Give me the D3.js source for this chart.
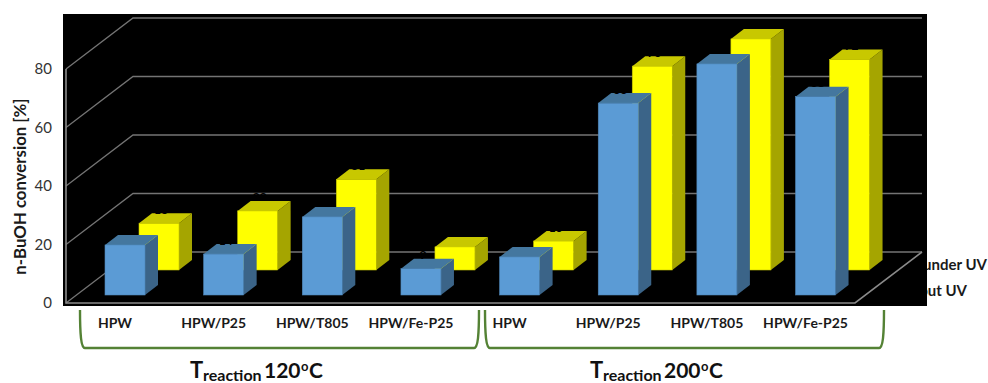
<!DOCTYPE html>
<html>
<head>
<meta charset="utf-8">
<script src="https://cdnjs.cloudflare.com/ajax/libs/d3/7.8.5/d3.min.js"></script>
<style>
html,body{margin:0;padding:0;background:#fff}
svg{display:block}
text{font-family:Lato,"Open Sans",sans-serif}
</style>
</head>
<body>
<svg id="chart" width="988" height="383"></svg>
<script>
// n-BuOH conversion for each catalyst at two reaction temperatures
const categories = ["HPW","HPW/P25","HPW/T805","HPW/Fe-P25","HPW","HPW/P25","HPW/T805","HPW/Fe-P25"];
const withoutUV = [17.1,14,26.7,9,13,65.6,79,67.8];
const underUV = [16,20.2,31,7.9,9.9,69.7,79,72];
const yTicks = [0,20,40,60,80];
const seriesNames = ["under UV","without UV"];
const groupTitles = ["120","200"];

const svg = d3.select("#chart");

// Plot frame and projected 3D depth
const frame = {x:63,y:14,w:864,h:292};
const wall = {left:66,right:855,dx:67,dy:51};
const barW = 40, barDx = 13, barDy = 10;
const y = d3.scaleLinear().domain([0,80]).range([303,69]);
const x = d3.scaleBand().domain(d3.range(categories.length))
  .range([105,105+98.65*8]).paddingInner(0).align(0);

// Each series sits on its own row of the floor
const rows = [
  {name:"under UV",values:underUV,dx:34,base:33,front:"#ffff00",top:"#c8c800",side:"#a5a500",edge:"#c4c400"},
  {name:"without UV",values:withoutUV,dx:0,base:8,front:"#5b9bd5",top:"#44779f",side:"#3b6488",edge:"#4f86b8"}
];

// Series names run underneath the black plot frame
const legend = svg.append("g").attr("font-size",15).attr("font-weight",700).attr("fill","#1a1a1a").attr("text-anchor","end");
legend.append("text").attr("x",987).attr("y",270).text(seriesNames[0]);
legend.append("text").attr("x",967).attr("y",296).text(seriesNames[1]);

svg.append("rect").attr("x",frame.x).attr("y",frame.y).attr("width",frame.w).attr("height",frame.h).attr("fill","#000");

// Gridlines: left wall diagonals joined to the back wall
const grid = svg.append("g").attr("fill","none").attr("stroke","#747474").attr("stroke-width",1.3);
grid.selectAll("path").data(yTicks).join("path")
  .attr("d",t=>`M${wall.left},${y(t)}L${wall.left+wall.dx},${y(t)-wall.dy}H${wall.right+wall.dx}`);
grid.append("path").attr("d",`M${wall.left},${y(80)}V${y(0)}H${wall.right}L${wall.right+wall.dx},${y(0)-wall.dy}`).attr("stroke","#8a8a8a").attr("stroke-width",1.6);

// Bars, back row first; the black data labels only show where they cross a bar or gridline
rows.forEach(r=>{
  const g = svg.append("g").selectAll("g").data(r.values).join("g");
  const left = (d,i)=>x(i)+r.dx;
  const bottom = y(0)-r.base;
  const topY = d=>y(0)-r.base-(y(0)-y(d));
  g.append("path").attr("fill",r.side)
    .attr("d",(d,i)=>`M${left(d,i)+barW},${topY(d)}l${barDx},${-barDy}V${bottom-barDy}l${-barDx},${barDy}Z`);
  g.append("path").attr("fill",r.top)
    .attr("d",(d,i)=>`M${left(d,i)},${topY(d)}l${barDx},${-barDy}h${barW}l${-barDx},${barDy}Z`);
  g.append("rect").attr("x",left).attr("y",topY).attr("width",barW)
    .attr("height",d=>bottom-topY(d)).attr("fill",r.front).attr("stroke",r.edge).attr("stroke-width",0.6);
  g.append("text").attr("x",(d,i)=>left(d,i)+22).attr("y",d=>topY(d)-9.5).attr("text-anchor","middle")
    .attr("font-size",12).attr("font-weight",700).attr("fill","#000").text(d=>d3.format(".0f")(d));
});

// Value axis
const yAxis = svg.append("g").attr("transform","translate(52,0)")
  .call(d3.axisLeft(y).tickValues(yTicks).tickSize(0).tickPadding(0));
yAxis.select(".domain").remove();
yAxis.selectAll("text").attr("font-size",15).attr("fill","#333").attr("font-family","Lato,sans-serif");

svg.append("text").attr("transform","translate(26,186.5) rotate(-90)").attr("text-anchor","middle")
  .attr("font-size",16.8).attr("font-weight",700).attr("fill","#1a1a1a").text("n-BuOH conversion [%]");

// Catalyst labels
svg.append("g").selectAll("text").data(categories).join("text")
  .attr("x",(d,i)=>x(i)+10).attr("y",328).attr("text-anchor","middle")
  .attr("font-size",14).attr("font-weight",700).attr("fill","#1a1a1a").text(d=>d);

// Brackets grouping the two temperatures
const brackets = svg.append("g").attr("fill","none").attr("stroke","#548235").attr("stroke-width",2.4);
[[80,479],[485,884]].forEach(([a,b])=>{
  brackets.append("path").attr("d",`M${a},310C${a},334 ${a+1},348 ${a+5},348H${b-5}C${b-1},348 ${b},334 ${b},310`);
});

// Group titles with subscript and degree mark
[[190,groupTitles[0]],[590,groupTitles[1]]].forEach(([px,t])=>{
  const g = svg.append("g").attr("font-weight",700).attr("fill","#111");
  g.append("text").attr("x",px).attr("y",378).attr("font-size",22).text("T");
  g.append("text").attr("x",px+13).attr("y",381).attr("font-size",16).text("reaction");
  g.append("text").attr("x",px+74).attr("y",378).attr("font-size",21).text(t);
  g.append("text").attr("x",px+111).attr("y",371).attr("font-size",13).text("o");
  g.append("text").attr("x",px+119).attr("y",378).attr("font-size",21).text("C");
});
</script>
</body>
</html>
